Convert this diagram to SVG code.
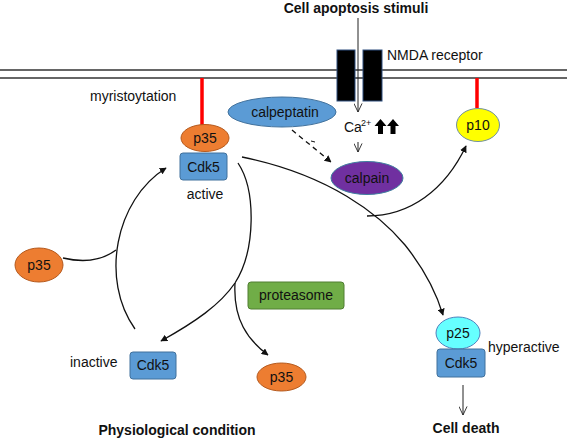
<svg xmlns="http://www.w3.org/2000/svg" width="567" height="440" viewBox="0 0 567 440">
<defs>
<style>
text{font-family:"Liberation Sans",Arial,sans-serif;font-size:14px;fill:#111;}
.b{font-weight:bold;font-size:14px;}
.c{text-anchor:middle;}
.ln{fill:none;stroke:#111;stroke-width:1.3;}
.thin{fill:none;stroke:#222;stroke-width:1;}
.mem{stroke:#333;stroke-width:1.3;}
.red{stroke:#ff0000;stroke-width:3.5;}
.p35{fill:#ed7d31;stroke:#b55a1e;stroke-width:1;}
.cdk{fill:#5b9bd5;stroke:#41719c;stroke-width:1;}
</style>
<marker id="ah" viewBox="0 0 10 10" refX="9" refY="5" markerWidth="7" markerHeight="7" orient="auto" markerUnits="userSpaceOnUse">
<path d="M0,0 L10,5 L0,10 Z" fill="#111"/>
</marker>
<marker id="ov" viewBox="0 0 10 10" refX="9.5" refY="5" markerWidth="9" markerHeight="9" orient="auto" markerUnits="userSpaceOnUse">
<path d="M0,0.5 L9.5,5 L0,9.5" fill="none" stroke="#222" stroke-width="1"/>
</marker>
</defs>
<rect width="567" height="440" fill="#fff"/>

<g id="membrane">
<line class="mem" x1="0" y1="70" x2="567" y2="70"/>
<line class="mem" x1="0" y1="78" x2="567" y2="78"/>
<line class="red" x1="202" y1="78" x2="202" y2="125"/>
<line class="red" x1="477" y1="78" x2="477" y2="108"/>
</g>

<g id="connectors">
<line class="thin" x1="358" y1="18" x2="358" y2="112" marker-end="url(#ov)"/>
<line class="thin" x1="358" y1="142" x2="358" y2="152" marker-end="url(#ov)"/>
<line class="thin" x1="463" y1="385" x2="463" y2="415" marker-end="url(#ov)"/>
<path class="ln" d="M292,130 L331,162" stroke-dasharray="5,4" marker-end="url(#ah)"/>
<line x1="311" y1="141" x2="315" y2="142" stroke="#111" stroke-width="1"/>
<path class="ln" d="M135,329 C100,280 115,200 166,168" marker-end="url(#ah)"/>
<path class="ln" d="M63,258 C80,262 100,262 116,250"/>
<path class="ln" d="M238,163 C256,190 256,250 235,283 C220,305 195,322 161,341" marker-end="url(#ah)"/>
<path class="ln" d="M235,283 C233,320 248,340 268,355" marker-end="url(#ah)"/>
<path class="ln" d="M242,157 C330,175 380,215 405,245 C425,270 437,295 443,315" marker-end="url(#ah)"/>
<path class="ln" d="M367,216 C410,216 445,190 466,146" marker-end="url(#ah)"/>
</g>

<text class="b c" x="356" y="13">Cell apoptosis stimuli</text>

<g id="nmda">
<rect x="337" y="50" width="18" height="51" fill="#000" stroke="#2f4f7f" stroke-width="1"/>
<rect x="363" y="50" width="19" height="51" fill="#000" stroke="#2f4f7f" stroke-width="1"/>
<text x="387" y="60">NMDA receptor</text>
</g>

<text x="90" y="101">myristoytation</text>

<g id="p35-active">
<ellipse class="p35" cx="205" cy="138" rx="24" ry="13.5"/>
<text class="c" x="205" y="143">p35</text>
</g>
<g id="cdk5-active">
<rect class="cdk" x="180" y="153" width="47" height="27" rx="3"/>
<text class="c" x="203.5" y="172">Cdk5</text>
<text class="c" x="205" y="199">active</text>
</g>

<g id="calpeptatin">
<ellipse cx="282" cy="112" rx="54" ry="15" fill="#5b9bd5" stroke="#41719c" stroke-width="1"/>
<text class="c" x="285" y="117">calpeptatin</text>
</g>

<g id="ca">
<text x="344" y="132">Ca</text>
<text x="361" y="126" style="font-size:9px">2+</text>
<polygon points="380.5,119 374.5,126 378,126 378,134 383,134 383,126 386.5,126" fill="#000"/>
<polygon points="393,119 387,126 390.5,126 390.5,134 395.5,134 395.5,126 399,126" fill="#000"/>
</g>

<g id="calpain">
<ellipse cx="367" cy="178" rx="36" ry="16.5" fill="#7030a0" stroke="#3f7f9f" stroke-width="1"/>
<text class="c" x="367" y="183">calpain</text>
</g>

<g id="p10">
<ellipse cx="478" cy="125" rx="21.5" ry="16.5" fill="#ffff00" stroke="#6f8fa0" stroke-width="1"/>
<text class="c" x="478" y="130">p10</text>
</g>

<g id="p35-free">
<ellipse class="p35" cx="39" cy="265" rx="24" ry="17"/>
<text class="c" x="39" y="270">p35</text>
</g>

<g id="proteasome">
<rect x="248" y="282" width="96" height="27" rx="3" fill="#70ad47" stroke="#507e32" stroke-width="1"/>
<text class="c" x="296" y="300">proteasome</text>
</g>

<g id="cdk5-inactive">
<rect class="cdk" x="130" y="352" width="46" height="27" rx="3"/>
<text class="c" x="153" y="370">Cdk5</text>
<text x="70" y="367">inactive</text>
</g>

<g id="p35-degraded">
<ellipse class="p35" cx="281.5" cy="377" rx="24.5" ry="14"/>
<text class="c" x="281.5" y="382">p35</text>
</g>

<g id="p25">
<ellipse cx="458" cy="333" rx="22" ry="16" fill="#66ffff" stroke="#4f81bd" stroke-width="1"/>
<text class="c" x="458" y="338">p25</text>
</g>
<g id="cdk5-hyper">
<rect class="cdk" x="437" y="349" width="48" height="28" rx="3"/>
<text class="c" x="461" y="368">Cdk5</text>
<text x="488" y="352">hyperactive</text>
</g>

<text class="b c" x="177" y="435">Physiological condition</text>
<text class="b c" x="466" y="433">Cell death</text>
</svg>
